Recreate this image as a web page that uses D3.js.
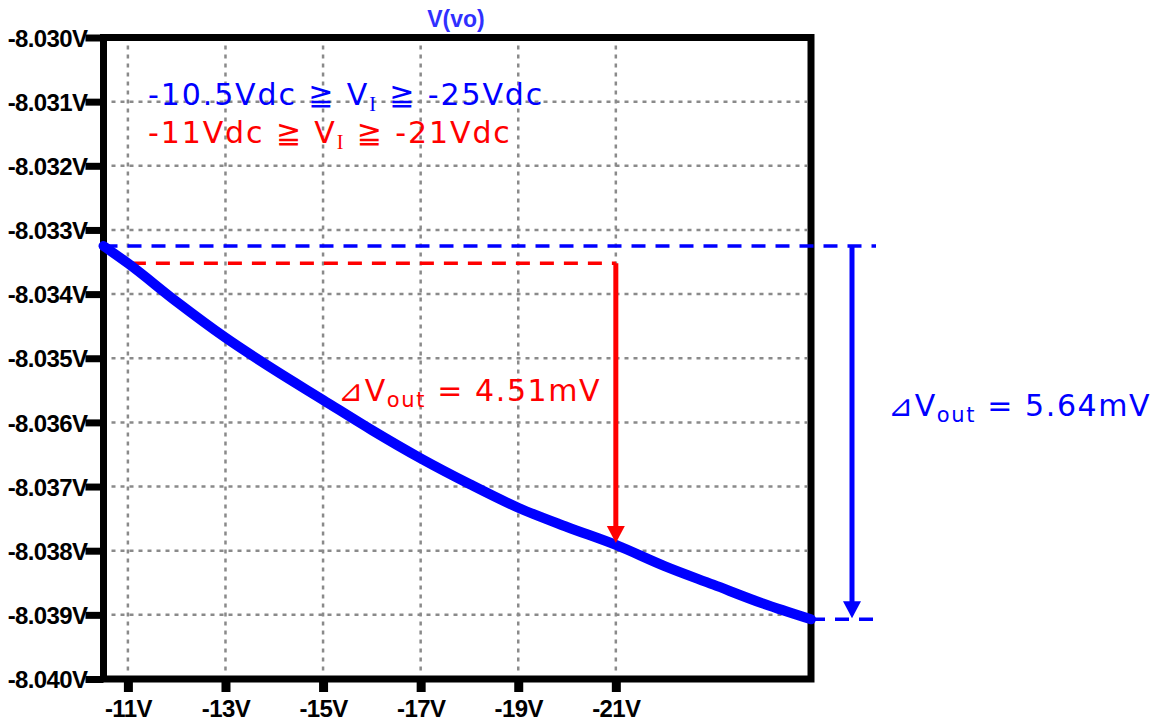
<!DOCTYPE html>
<html>
<head>
<meta charset="utf-8">
<script src="https://cdn.jsdelivr.net/npm/d3@7"></script>
<style>
  body { margin: 0; background: #fff; }
  .tick text { font-family: "Liberation Sans", Arial, sans-serif; font-weight: bold; font-size: 24px; fill: #000; letter-spacing: -0.6px; }
</style>
</head>
<body>
<svg id="chart"></svg>
<script>
// DATA
const vin = [-10.5, -11, -12, -13, -14, -15, -16, -17, -18, -19, -20, -21, -22, -23, -24, -25];
const vout = [-8.03325, -8.03352, -8.03412, -8.03468, -8.03518, -8.03565, -8.03612, -8.03656,
  -8.03696, -8.03733, -8.03763, -8.03791, -8.03824, -8.03853, -8.03882, -8.03907];
const xTicks = [-11, -13, -15, -17, -19, -21];
const yTicks = [-8.030, -8.031, -8.032, -8.033, -8.034, -8.035, -8.036, -8.037, -8.038, -8.039, -8.040];

const width = 1156;
const height = 721;

const svg = d3.select("#chart").attr("width", width).attr("height", height);

const x = d3.scaleLinear().domain([-10.5, -25]).range([103.5, 811]);
const y = d3.scaleLinear().domain([-8.030, -8.040]).range([37.5, 679]);

const vStart = vout[0];
const vEnd = vout[vout.length - 1];
const v11 = vout[vin.indexOf(-11)];
const v21 = vout[vin.indexOf(-21)];

// GRID
svg.append("g")
  .selectAll("line")
  .data(xTicks)
  .enter()
  .append("line")
  .attr("x1", (d) => x(d)).attr("x2", (d) => x(d))
  .attr("y1", y(-8.030) + 8).attr("y2", y(-8.040) - 4)
  .attr("stroke", "#8a8a8a").attr("stroke-width", 2.5).attr("stroke-dasharray", "4,5");

svg.append("g")
  .selectAll("line")
  .data(yTicks.slice(1, -1))
  .enter()
  .append("line")
  .attr("x1", x(-10.5) + 8).attr("x2", x(-25) - 4)
  .attr("y1", (d) => y(d)).attr("y2", (d) => y(d))
  .attr("stroke", "#8a8a8a").attr("stroke-width", 2.5).attr("stroke-dasharray", "4,5");

// AXES
const yAxis = d3.axisLeft(y).tickValues(yTicks).tickSize(18).tickPadding(-2)
  .tickFormat((d) => d.toFixed(3) + "V");
const gy = svg.append("g").attr("transform", `translate(${x(-10.5)},0)`).call(yAxis);
gy.select(".domain").remove();
gy.selectAll(".tick line").attr("stroke", "#000").attr("stroke-width", 7);
gy.selectAll(".tick text").attr("dy", "0.36em");

const xAxis = d3.axisBottom(x).tickValues(xTicks).tickSize(13).tickPadding(8)
  .tickFormat((d) => String(d) + "V");
const gx = svg.append("g").attr("transform", `translate(0,${y(-8.040)})`).call(xAxis);
gx.select(".domain").remove();
gx.selectAll(".tick line").attr("stroke", "#000").attr("stroke-width", 9);

// FRAME
svg.append("rect")
  .attr("x", x(-10.5)).attr("y", y(-8.030))
  .attr("width", x(-25) - x(-10.5)).attr("height", y(-8.040) - y(-8.030))
  .attr("fill", "none").attr("stroke", "#000").attr("stroke-width", 7);

// TITLE
svg.append("text")
  .attr("x", 456).attr("y", 27).attr("text-anchor", "middle")
  .attr("font-family", "Liberation Sans, Arial, sans-serif").attr("font-weight", "bold")
  .attr("font-size", 23).attr("fill", "#3030ff").text("V(vo)");

// ANNOTATION LINES
svg.append("line")
  .attr("x1", x(-10.5)).attr("x2", 876).attr("y1", y(vStart)).attr("y2", y(vStart))
  .attr("stroke", "#0000ff").attr("stroke-width", 3.5).attr("stroke-dasharray", "14,10");
svg.append("line")
  .attr("x1", x(-25)).attr("x2", 876).attr("y1", y(vEnd)).attr("y2", y(vEnd))
  .attr("stroke", "#0000ff").attr("stroke-width", 3.5).attr("stroke-dasharray", "14,10");
svg.append("line")
  .attr("x1", x(-11) + 4).attr("x2", x(-21)).attr("y1", y(v11)).attr("y2", y(v11))
  .attr("stroke", "#ff0000").attr("stroke-width", 3.5).attr("stroke-dasharray", "14,10");

// CURVE
const line = d3.line().x((d, i) => x(vin[i])).y((d) => y(d)).curve(d3.curveMonotoneX);
svg.append("path")
  .datum(vout)
  .attr("d", line)
  .attr("fill", "none").attr("stroke", "#0000ff").attr("stroke-width", 10)
  .attr("stroke-linecap", "round").attr("stroke-linejoin", "round");

// ARROWS
function arrow(xp, y0, y1, color) {
  svg.append("line")
    .attr("x1", xp).attr("x2", xp).attr("y1", y0).attr("y2", y1 - 14)
    .attr("stroke", color).attr("stroke-width", 5);
  svg.append("path")
    .attr("d", `M${xp - 9},${y1 - 17} L${xp + 9},${y1 - 17} L${xp},${y1} Z`)
    .attr("fill", color);
}
arrow(x(-21), y(v11), y(v21) - 2, "#ff0000");
arrow(852, y(vStart), y(vEnd) - 1, "#0000ff");

// TEXT
const mainFont = "DejaVu Sans, Verdana, Noto Sans CJK JP, sans-serif";
function rangeText(xp, yp, color, lo, hi) {
  const t = svg.append("text").attr("x", xp).attr("y", yp)
    .attr("font-family", mainFont).attr("font-size", 30).attr("letter-spacing", 1.9).attr("fill", color);
  t.append("tspan").text(lo + " \u2267 V");
  t.append("tspan").attr("font-family", "Liberation Serif, Times New Roman, serif")
    .attr("font-size", 20).attr("dy", 6).text("I");
  t.append("tspan").attr("dy", -6).text(" \u2267 " + hi);
}
rangeText(148, 105, "#0000ff", "-10.5Vdc", "-25Vdc");
rangeText(148, 143, "#ff0000", "-11Vdc", "-21Vdc");

function deltaText(xp, yp, color, val) {
  const t = svg.append("text").attr("x", xp).attr("y", yp)
    .attr("font-family", mainFont).attr("font-size", 30).attr("letter-spacing", 1.6).attr("fill", color);
  t.append("tspan").text("\u22BFV");
  t.append("tspan").attr("font-size", 21).attr("dy", 6).text("out");
  t.append("tspan").attr("dy", -6).text(" = " + val);
}
deltaText(338, 401, "#ff0000", "4.51mV");
deltaText(888, 416, "#0000ff", "5.64mV");
</script>
</body>
</html>
